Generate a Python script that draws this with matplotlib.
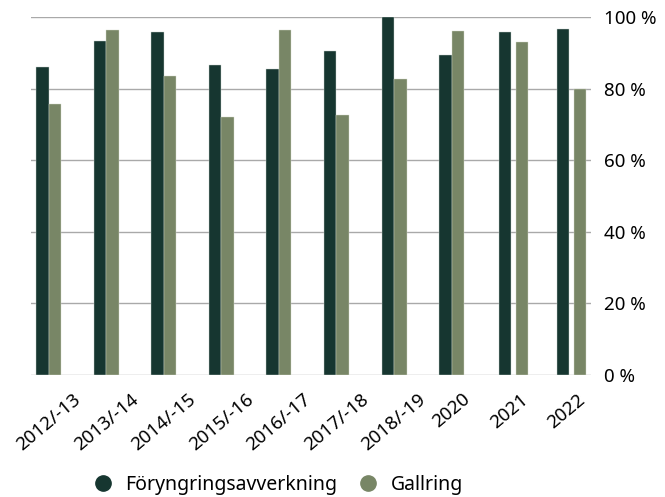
import numpy as np
import matplotlib.pyplot as plt
from matplotlib.lines import Line2D

plt.rcParams['font.family'] = ['Noto Sans', 'DejaVu Sans']

years = ['2012/-13', '2013/-14', '2014/-15', '2015/-16', '2016/-17',
         '2017/-18', '2018/-19', '2020', '2021', '2022']
foryngring = [86.1, 93.2, 95.7, 86.5, 85.6, 90.6, 100.0, 89.4, 95.8, 96.6]
gallring = [75.8, 96.4, 83.4, 72.1, 96.4, 72.6, 82.8, 96.0, 93.0, 80.0]
yticks = [0, 20, 40, 60, 80, 100]

DARK = '#163630'
LIGHT = '#788666'

# the last two pairs are drawn with a small gap between the bars
gaps = np.array([0, 0, 0, 0, 0, 0, 0, 0, 0.078, 0.078])

fig = plt.figure(figsize=(6.65, 4.97), dpi=100)
ax = fig.add_axes([31/665, 1 - 375/497, (591 - 31)/665, (375 - 17)/497])

x = np.arange(len(years))
w = 0.217
ax.bar(x - w/2 + gaps/2, foryngring, w, color=DARK, edgecolor='#c9d3cc', linewidth=0.3, zorder=3)
ax.bar(x + w/2 + 1.5*gaps, gallring, w, color=LIGHT, edgecolor='#d4d9cb', linewidth=0.3, zorder=3)

ax.set_xlim(-0.304, 9.42)
ax.set_ylim(0, 100)
ax.set_yticks(yticks)
ax.set_yticklabels([f'{v} %' for v in yticks], fontsize=13.5)
ax.yaxis.tick_right()
ax.tick_params(axis='y', length=0, pad=9)
ax.grid(axis='y', color='#a9a9a9', linewidth=1.0, zorder=0)
for s in ax.spines.values():
    s.set_visible(False)

ax.set_xticks(x)
ax.set_xticklabels(years, rotation=40, ha='center', va='top', fontsize=13.5)
ax.tick_params(axis='x', length=0, pad=11)

handles = [Line2D([], [], marker='o', linestyle='', markersize=11, color=DARK),
           Line2D([], [], marker='o', linestyle='', markersize=11, color=LIGHT)]
fig.legend(handles, ['Föryngringsavverkning', 'Gallring'], loc='center',
           bbox_to_anchor=(273/665, 1 - 485/497), ncol=2, frameon=False,
           fontsize=14, handletextpad=0.15, columnspacing=0.6,
           borderpad=0, borderaxespad=0)

fig.savefig('out.png', dpi=100)
